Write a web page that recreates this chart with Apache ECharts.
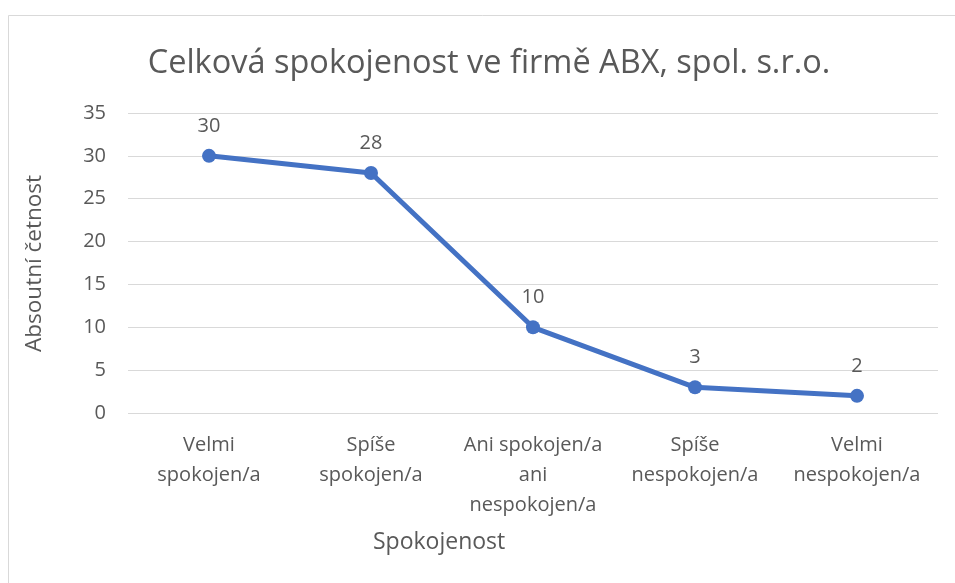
<!DOCTYPE html>
<html>
<head>
<meta charset="utf-8">
<script src="https://cdn.jsdelivr.net/npm/echarts@6/dist/echarts.min.js"></script>
<style>
  html, body { margin: 0; padding: 0; background: #fff; }
  #chart { width: 955px; height: 583px; }
</style>
</head>
<body>
<div id="chart"></div>
<script>
// data
const categories = ['Velmi\nspokojen/a', 'Spíše\nspokojen/a', 'Ani spokojen/a\nani\nnespokojen/a', 'Spíše\nnespokojen/a', 'Velmi\nnespokojen/a']
const counts = [30, 28, 10, 3, 2]
const yTicks = { min: 0, max: 35, interval: 5 }

const textColor = '#595959'
const fontFamily = '"Open Sans", "Noto Sans", sans-serif'

let myChart = echarts.init(document.getElementById('chart'))
let option = {
  backgroundColor: '#ffffff',
  animation: false,
  title: {
    text: 'Celková spokojenost ve firmě ABX, spol. s.r.o.',
    left: 484,
    top: 42,
    textAlign: 'center',
    textStyle: {
      color: textColor,
      fontSize: 32.5,
      fontWeight: 'normal',
      fontFamily: fontFamily
    }
  },
  grid: {
    left: 128,
    right: 17,
    top: 113,
    bottom: 170
  },
  xAxis: {
    type: 'category',
    data: categories,
    axisLine: { show: false },
    axisTick: { show: false },
    axisLabel: {
      color: textColor,
      fontSize: 20,
      fontFamily: fontFamily,
      lineHeight: 30,
      margin: 17,
      interval: 0
    }
  },
  yAxis: {
    type: 'value',
    min: yTicks.min,
    max: yTicks.max,
    interval: yTicks.interval,
    axisLine: { show: false },
    axisTick: { show: false },
    axisLabel: {
      color: textColor,
      fontSize: 20,
      fontFamily: fontFamily,
      margin: 22
    },
    splitLine: {
      lineStyle: { color: '#d9d9d9', width: 1 }
    }
  },
  graphic: [
    {
      type: 'rect',
      shape: { x: 8.5, y: 15.5, width: 960, height: 600 },
      style: { fill: 'none', stroke: '#d9d9d9', lineWidth: 1 },
      silent: true
    },
    {
      type: 'text',
      left: 23,
      top: 175,
      rotation: Math.PI / 2,
      style: {
        text: 'Absoutní četnost',
        fill: textColor,
        fontSize: 22.5,
        fontFamily: fontFamily
      }
    },
    {
      type: 'text',
      left: 373,
      top: 531,
      style: {
        text: 'Spokojenost',
        fill: textColor,
        fontSize: 23,
        fontFamily: fontFamily
      }
    }
  ],
  series: [
    {
      name: 'Absoutní četnost',
      type: 'line',
      data: counts,
      symbol: 'circle',
      symbolSize: 14,
      lineStyle: { color: '#4472C4', width: 5 },
      itemStyle: { color: '#4472C4' },
      label: {
        show: true,
        position: 'top',
        distance: 13,
        color: textColor,
        fontSize: 20,
        fontFamily: fontFamily
      }
    }
  ]
}
myChart.setOption(option)
</script>
</body>
</html>
